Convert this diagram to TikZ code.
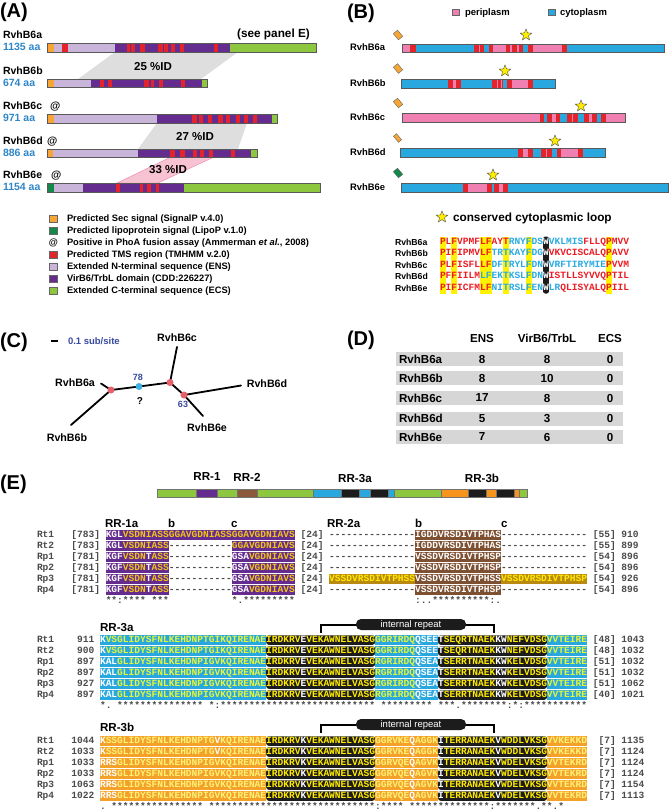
\documentclass[tikz,border=0pt]{standalone}
\usepackage{fontspec}
\setmainfont{Liberation Sans}
\setmonofont{Liberation Mono}
\usetikzlibrary{shapes.geometric}
\definecolor{org}{HTML}{F7A535}
\definecolor{dgrn}{HTML}{12884A}
\definecolor{tms}{HTML}{E3242B}
\definecolor{lpur}{HTML}{C9B5D9}
\definecolor{dpur}{HTML}{652C8F}
\definecolor{lgrn}{HTML}{8DC63F}
\definecolor{pk}{HTML}{F080B2}
\definecolor{bl}{HTML}{29A8E0}
\definecolor{aablue}{HTML}{2E86C8}
\definecolor{band}{HTML}{DEDEDE}
\definecolor{pband}{HTML}{F7C3D3}
\definecolor{staryel}{HTML}{FFED00}
\definecolor{hl}{HTML}{FFF200}
\definecolor{sred}{HTML}{ED1C24}
\definecolor{sblu}{HTML}{29ABE2}
\definecolor{dgray}{HTML}{D6D6D6}
\definecolor{treeblue}{HTML}{3A4A9E}
\definecolor{nodered}{HTML}{E8606A}
\definecolor{nodeblue}{HTML}{3FB0E0}
\definecolor{brn}{HTML}{7E5032}
\definecolor{brnE}{HTML}{8B5A3C}
\definecolor{gld}{HTML}{F2C418}
\definecolor{gbg}{HTML}{B98A0F}
\definecolor{ybright}{HTML}{FFEA00}
\definecolor{ygreen}{HTML}{E5F53A}
\definecolor{ylt}{HTML}{FFF176}
\definecolor{oE}{HTML}{F7941D}
\definecolor{oaln}{HTML}{F4A12A}
\definecolor{blk}{HTML}{1C1C1C}
\definecolor{numc}{HTML}{4A4A4A}
\newcounter{nn}
\newcommand\Wt[1]{\textcolor{white}{#1}}
\newcommand\Rd[1]{\textcolor{sred}{#1}}
\newcommand\Bl[1]{\textcolor{sblu}{#1}}
\newcommand\aseg[6][]{\stepcounter{nn}\node[aln,fill=#4,text=#5,name=q\arabic{nn},#1] at ({37+5.73*#2},#3) {#6};}
\newcommand\seqfive[8]{%
 \aseg{11}{#1}{#2}{#3}{#4}%
 \aseg[rounded corners=2.5pt]{40}{#1}{blk}{ybright}{#5}%
 \aseg{59}{#1}{#2}{#3}{#6}%
 \aseg[rounded corners=2.5pt]{70}{#1}{blk}{ybright}{#7}%
 \aseg{89}{#1}{#2}{#3}{#8}}
\newcommand\rowlab[5]{%
 \aseg{0}{#1}{none}{numc}{#2}%
 \aseg[anchor=east]{10}{#1}{none}{numc}{#3}%
 \aseg{97}{#1}{none}{numc}{#4}%
 \aseg{102}{#1}{none}{numc}{#5}}
\begin{document}
\begin{tikzpicture}[x=1pt,y=-1pt,
 every node/.style={inner sep=0pt, outer sep=0pt},
 bf/.style={font=\bfseries\fontsize{#1}{#1}\selectfont, text depth=0pt},
 rg/.style={font=\fontsize{#1}{#1}\selectfont, text depth=0pt},
 aln/.style={anchor=west, inner sep=0pt, font=\ttfamily\bfseries\fontsize{9.55}{10}\selectfont, text height=6.6pt, text depth=2.1pt, inner ysep=0.4pt},
 barline/.style={draw=black!65, line width=0.5pt},
 legsq/.style={draw=black!60, line width=0.4pt, minimum size=7.5pt},
 diam/.style={draw=black!60, line width=0.4pt, minimum width=8pt, minimum height=5.5pt, rotate=-50},
 strn/.style={star, star points=5, star point ratio=2.3, minimum size=12pt, fill=staryel, draw=black!70, line width=0.4pt},
 tree/.style={line width=1.8pt, line cap=round},
 tnode/.style={circle, minimum size=7pt},
 brk/.style={line width=2.2pt}]
\fill[white] (0,0) rectangle (669,811);
\useasboundingbox (0,0) rectangle (669,811);

% ---------- panel labels
\node[bf=20, anchor=west] (pA) at (0,10) {(A)};
\node[bf=20, anchor=west] (pB) at (347,11) {(B)};
\node[bf=20, anchor=west] (pC) at (0,340) {(C)};
\node[bf=20, anchor=west] (pD) at (347,338) {(D)};
\node[bf=20, anchor=west] (pE) at (0,482) {(E)};

% ---------- panel A
\fill[band] (115,52) -- (238,52) -- (201,79) -- (78,79) -- cycle;
\fill[band] (157,123) -- (247,123) -- (238,149) -- (138,149) -- cycle;
\filldraw[fill=pband, draw=pk, line width=0.4pt] (170,157.5) -- (213,157.5) -- (158,183) -- (117,183) -- cycle;
\node[bf=11.5] (pc1) at (153,66) {25 \%ID};
\node[bf=11.5] (pc2) at (195,136) {27 \%ID};
\node[bf=11.5] (pc3) at (168,169) {33 \%ID};
\node[bf=11.8] (seeE) at (273.5,33) {(see panel E)};

\foreach \a/\b/\c in {47.3/54.3/org,54.3/115/lpur,61.7/67.7/tms,115/230/dpur,126.7/130/tms,130.7/135/tms,140/145/tms,158.3/163.3/tms,164.3/168.3/tms,170.7/175/tms,180/184/tms,214/218.3/tms,230/316/lgrn}
  \fill[\c] (\a,43) rectangle (\b,52);
\draw[barline] (47.3,43) rectangle (316,52);
\foreach \a/\b/\c in {47.3/54.3/org,54.3/90.7/lpur,90.7/201.7/dpur,201.7/207.3/lgrn,100/104.3/tms,108.3/112.3/tms,144.3/149/tms,150.7/154.3/tms,159/163.3/tms,180.7/185/tms}
  \fill[\c] (\a,79) rectangle (\b,87.5);
\draw[barline] (47.3,79) rectangle (207.3,87.5);
\foreach \a/\b/\c in {47.3/54.3/org,54.3/156.7/lpur,156.7/271.7/dpur,271.7/277.3/lgrn,192.3/196.7/tms,199.3/203.3/tms,208.3/212.3/tms,218.3/222.7/tms,225.7/230/tms,236/240/tms,244.3/248.3/tms,252.7/257.3/tms}
  \fill[\c] (\a,114) rectangle (\b,123);
\draw[barline] (47.3,114) rectangle (277.3,123);
\foreach \a/\b/\c in {47.3/52.7/org,52.7/138.3/lpur,138.3/251/dpur,251/257.3/lgrn,170/175/tms,180/185/tms,192.7/197.3/tms,200/204/tms,209/213.3/tms,230.7/235/tms}
  \fill[\c] (\a,149) rectangle (\b,157.5);
\draw[barline] (47.3,149) rectangle (257.3,157.5);
\foreach \a/\b/\c in {47.3/54/dgrn,54/83.3/lpur,83.3/184/dpur,184/320.7/lgrn,116/120/tms,140/143.3/tms,146.7/150.7/tms,155.7/159.3/tms}
  \fill[\c] (\a,183) rectangle (\b,192);
\draw[barline] (47.3,183) rectangle (320.7,192);

\node[bf=10.5, anchor=west] (na) at (3,35) {RvhB6a};
\node[bf=10.5, anchor=west, text=aablue] (la) at (3,47) {1135 aa};
\node[bf=10.5, anchor=west] (nb) at (3,71) {RvhB6b};
\node[bf=10.5, anchor=west, text=aablue] (lb) at (3,82.5) {674 aa};
\node[bf=10.5, anchor=west] (nc) at (3,106) {RvhB6c};
\node[bf=10.5, anchor=west] (atc) at (50,106) {@};
\node[bf=10.5, anchor=west, text=aablue] (lc) at (3,118) {971 aa};
\node[bf=10.5, anchor=west] (nd) at (3,141) {RvhB6d};
\node[bf=10.5, anchor=west] (atd) at (47,141) {@};
\node[bf=10.5, anchor=west, text=aablue] (ld) at (3,153) {886 aa};
\node[bf=10.5, anchor=west] (ne) at (3,175) {RvhB6e};
\node[bf=10.5, anchor=west] (ate) at (51,175) {@};
\node[bf=10.5, anchor=west, text=aablue] (le) at (3,187) {1154 aa};

% legend A
\node[legsq, fill=org] (ls1) at (53.3,218.5) {};
\node[bf=9.3, anchor=west] (lt1) at (67,218.5) {Predicted Sec signal (SignalP v.4.0)};
\node[legsq, fill=dgrn] (ls2) at (53.3,230.5) {};
\node[bf=9.3, anchor=west] (lt2) at (67,230.5) {Predicted lipoprotein signal (LipoP v.1.0)};
\node[bf=9.3] (ls3) at (53.3,242.5) {@};
\node[bf=9.3, anchor=west] (lt3) at (67,242.5) {Positive in PhoA fusion assay (Ammerman \textit{et al.}, 2008)};
\node[legsq, fill=tms] (ls4) at (53.3,254.5) {};
\node[bf=9.3, anchor=west] (lt4) at (67,254.5) {Predicted TMS region (TMHMM v.2.0)};
\node[legsq, fill=lpur] (ls5) at (53.3,266.5) {};
\node[bf=9.3, anchor=west] (lt5) at (67,266.5) {Extended N-terminal sequence (ENS)};
\node[legsq, fill=dpur] (ls6) at (53.3,278.5) {};
\node[bf=9.3, anchor=west] (lt6) at (67,278.5) {VirB6/TrbL domain (CDD:226227)};
\node[legsq, fill=lgrn] (ls7) at (53.3,290.5) {};
\node[bf=9.3, anchor=west] (lt7) at (67,290.5) {Extended C-terminal sequence (ECS)};

% ---------- panel B
\node[legsq, fill=pk, minimum size=6.7pt] (bls1) at (456,12.3) {};
\node[bf=9.5, anchor=west] (blt1) at (465,12.3) {periplasm};
\node[legsq, fill=bl, minimum size=6.7pt] (bls2) at (551.5,12.3) {};
\node[bf=9.5, anchor=west] (blt2) at (560,12.3) {cytoplasm};

\foreach \a/\b/\c in {217/240/pk,240/257/tms,257/433/bl,433/447/tms,447/450/pk,450/463/tms,463/476/bl,476/490/tms,490/528/pk,528/541/tms,541/545/pk,545/560/tms,560/566/pk,566/580/tms,580/595/bl,595/608/tms,608/697/pk,697/710/tms,710/1003/bl}
  \fill[\c] ({330+\a/3},44) rectangle ({330+\b/3},52.5);
\draw[barline] ({330+217/3},44) rectangle ({330+1003/3},52.5);
\foreach \a/\b/\c in {213/355/bl,355/370/tms,370/378/pk,378/392/tms,392/487/bl,487/500/tms,500/503/pk,503/512/tms,512/515/pk,515/520/tms,520/532/bl,532/545/tms,545/595/pk,595/610/tms,610/677/bl}
  \fill[\c] ({330+\a/3},79) rectangle ({330+\b/3},88);
\draw[barline] ({330+213/3},79) rectangle ({330+677/3},88);
\foreach \a/\b/\c in {217/630/pk,630/643/tms,643/652/bl,652/665/tms,665/677/pk,677/690/tms,690/710/bl,710/725/tms,725/730/pk,730/745/tms,745/762/bl,762/777/tms,777/787/pk,787/802/tms,802/812/bl,812/827/tms,827/887/pk}
  \fill[\c] ({330+\a/3},113) rectangle ({330+\b/3},122);
\draw[barline] ({330+217/3},113) rectangle ({330+887/3},122);
\foreach \a/\b/\c in {210/565/bl,565/580/tms,580/595/pk,595/610/tms,610/632/bl,632/648/tms,648/652/pk,652/667/tms,667/680/bl,680/693/tms,693/745/pk,745/760/tms,760/827/bl}
  \fill[\c] ({330+\a/3},148) rectangle ({330+\b/3},157);
\draw[barline] ({330+210/3},148) rectangle ({330+827/3},157);
\foreach \a/\b/\c in {213/400/bl,400/415/tms,415/470/pk,470/485/tms,485/493/bl,493/508/tms,508/518/pk,518/533/tms,533/1015/bl}
  \fill[\c] ({330+\a/3},183) rectangle ({330+\b/3},192);
\draw[barline] ({330+213/3},183) rectangle ({330+1015/3},192);

\node[diam, fill=org] (dma) at (398,35) {};
\node[diam, fill=org] (dmb) at (398,68.5) {};
\node[diam, fill=org] (dmc) at (398,103) {};
\node[diam, fill=org, minimum height=4pt] (dmd) at (397.5,138) {};
\node[diam, fill=dgrn] (dme) at (398,173) {};
\node[strn] (sta) at (526,35) {};
\node[strn] (stb) at (505,71) {};
\node[strn] (stc) at (581,106) {};
\node[strn] (std) at (555,141) {};
\node[strn] (ste) at (493,175) {};

\node[bf=9.4, anchor=west] (bna) at (350,47.5) {RvhB6a};
\node[bf=9.4, anchor=west] (bnb) at (350,83) {RvhB6b};
\node[bf=9.4, anchor=west] (bnc) at (350,117.5) {RvhB6c};
\node[bf=9.4, anchor=west] (bnd) at (350,152.5) {RvhB6d};
\node[bf=9.4, anchor=west] (bne) at (350,187.5) {RvhB6e};

\node[strn] (stl) at (442,217) {};
\node[bf=11.8, anchor=west] (stlt) at (453,217) {conserved cytoplasmic loop};

\foreach \i in {0,2,7,8,11,15,29}
  \fill[hl] ({440+5.73*\i},236.5) rectangle ({440+5.73*(\i+1)},293.5);
\fill[blk, rounded corners=2pt] ({440+5.73*18},236.5) rectangle ({440+5.73*19},293.5);
\node[bf=8.7, anchor=west] (ana) at (395,242) {RvhB6a};
\node[bf=8.7, anchor=west] (anb) at (395,253.5) {RvhB6b};
\node[bf=8.7, anchor=west] (anc) at (395,265) {RvhB6c};
\node[bf=8.7, anchor=west] (and) at (395,276.5) {RvhB6d};
\node[bf=8.7, anchor=west] (ane) at (395,288) {RvhB6e};
\node[aln] (sqa) at (440,242) {\Rd{PLFVPMFLFAYT}\Bl{RNYFDS}\Wt{W}\Bl{VKLMIS}\Rd{FLLQPMVV}};
\node[aln] (sqb) at (440,253.5) {\Rd{PIFIPMVLF}\Bl{TRTKAYFDG}\Wt{W}\Rd{VKVCISCALQPAVV}};
\node[aln] (sqc) at (440,265) {\Rd{PLFISFLLF}\Bl{DFTRYLFDN}\Wt{W}\Bl{VRFTIRYMIE}\Rd{PVVM}};
\node[aln] (sqd) at (440,276.5) {\Rd{PFFIILM}\Bl{LFEKTKSLFDN}\Wt{W}\Rd{ISTLLSYVVQPTIL}};
\node[aln] (sqe) at (440,288) {\Rd{PIFICFMLF}\Bl{NITRSLFEN}\Wt{W}\Bl{LR}\Rd{QLISYALQPIIL}};

% ---------- panel C
\coordinate (s1) at (51,341);
\coordinate (s2) at (58,341);
\draw[line width=1.8pt] (s1) -- (s2);
\node[bf=9.5, anchor=west, text=treeblue] (sbl) at (68,341) {0.1 sub/site};
\coordinate (ea) at (101,383.5);
\coordinate (n1) at (111,390);
\coordinate (eb) at (71,425);
\coordinate (nbl) at (139,386.5);
\coordinate (n2) at (170,382.5);
\coordinate (ec) at (177,347);
\coordinate (n3) at (184,395);
\coordinate (ed) at (241,385.5);
\coordinate (ee) at (203,416);
\draw[tree] (ea) -- (n1) -- (eb);
\draw[tree] (n1) -- (nbl) -- (n2) -- (ec);
\draw[tree] (n2) -- (n3) -- (ed);
\draw[tree] (n3) -- (ee);
\node[tnode, fill=nodered] (cn1) at (n1) {};
\node[tnode, fill=nodeblue] (cnb) at (nbl) {};
\node[tnode, fill=nodered] (cn2) at (n2) {};
\node[tnode, fill=nodered] (cn3) at (n3) {};
\node[bf=10.7] (ta) at (75,383) {RvhB6a};
\node[bf=10.7] (tb) at (67,438) {RvhB6b};
\node[bf=10.7] (tc) at (177,338) {RvhB6c};
\node[bf=10.7] (td) at (267,384) {RvhB6d};
\node[bf=10.7] (te) at (207,428) {RvhB6e};
\node[bf=9, text=treeblue] (b78) at (138,377) {78};
\node[bf=10] (bq) at (140,401.5) {?};
\node[bf=9, text=treeblue] (b63) at (183,404) {63};

% ---------- panel D
\node[bf=11.6] (dh1) at (482,338) {ENS};
\node[bf=11.6] (dh2) at (547,338) {VirB6/TrbL};
\node[bf=11.6] (dh3) at (610,338) {ECS};
\foreach \y/\nm/\va/\vb/\vc [count=\i] in {359/RvhB6a/8/8/0,378/RvhB6b/8/10/0,398/RvhB6c/17/8/0,418.5/RvhB6d/5/3/0,437/RvhB6e/7/6/0} {
  \fill[dgray] (396,\y-7) rectangle (623,\y+7);
  \node[bf=11.6, anchor=west] (dn\i) at (399,\y) {\nm};
  \node[bf=11.6] (dva\i) at (482,\y) {\va};
  \node[bf=11.6] (dvb\i) at (547,\y) {\vb};
  \node[bf=11.6] (dvc\i) at (610,\y) {\vc};
}

% ---------- panel E domain bar
\foreach \a/\b/\c in {157/196/lgrn,196/217/dpur,217/237/lgrn,237/257/brnE,257/313/lgrn,313/341/bl,341/359/blk,359/370/bl,370/388/blk,388/394/bl,394/441/lgrn,441/468/oE,468/486/blk,486/496/oE,496/514/blk,514/519/oE,519/527/lgrn}
  \filldraw[fill=\c, draw=black!55, line width=0.3pt] (\a,489) rectangle (\b,497);
\node[bf=11.6] (e1) at (207,477) {RR-1};
\node[bf=11.6] (e2) at (247,477) {RR-2};
\node[bf=11.6] (e3) at (355,478) {RR-3a};
\node[bf=11.6] (e4) at (482,478) {RR-3b};

% ---------- block 1 (RR-1, RR-2)
\node[bf=11.5, anchor=base west] (h1a) at (105,527) {RR-1a};
\node[bf=11.5, anchor=base west] (h1b) at (168,527) {b};
\node[bf=11.5, anchor=base west] (h1c) at (231,527) {c};
\node[bf=11.5, anchor=base west] (h2a) at (327,527) {RR-2a};
\node[bf=11.5, anchor=base west] (h2b) at (415,527) {b};
\node[bf=11.5, anchor=base west] (h2c) at (501,527) {c};

\aseg{0}{535}{none}{numc}{Rt1}\aseg{6}{535}{none}{numc}{[783]}
\aseg{12}{535}{dpur}{gld}{\Wt{KGL}VSDNIASS}\aseg{23}{535}{dpur}{gld}{GGAVGDNIASS}\aseg{34}{535}{dpur}{gld}{GGAVGDNIAVS}
\aseg{46}{535}{none}{numc}{[24]}\aseg{51}{535}{none}{numc}{---------------}\aseg{66}{535}{brn}{white}{IGDDVRSDIVTPHAS}\aseg{81}{535}{none}{numc}{---------------}
\aseg{97}{535}{none}{numc}{[55]}\aseg{102}{535}{none}{numc}{910}

\aseg{0}{546}{none}{numc}{Rt2}\aseg{6}{546}{none}{numc}{[783]}
\aseg{12}{546}{dpur}{gld}{\Wt{KGL}VSDNIASS}\aseg{23}{546}{none}{numc}{-----------}\aseg{34}{546}{dpur}{gld}{GGAVGDNIAVS}
\aseg{46}{546}{none}{numc}{[24]}\aseg{51}{546}{none}{numc}{---------------}\aseg{66}{546}{brn}{white}{IGDDVRSDIVTPHAS}\aseg{81}{546}{none}{numc}{---------------}
\aseg{97}{546}{none}{numc}{[55]}\aseg{102}{546}{none}{numc}{899}

\foreach \y/\nm in {557/Rp1,568/Rp2,590/Rp4} {
\aseg{0}{\y}{none}{numc}{\nm}\aseg{6}{\y}{none}{numc}{[781]}
\aseg{12}{\y}{dpur}{gld}{\Wt{KGF}VSDN\Wt{T}ASS}\aseg{23}{\y}{none}{numc}{-----------}\aseg{34}{\y}{dpur}{gld}{\Wt{GSA}VGDNIAVS}
\aseg{46}{\y}{none}{numc}{[24]}\aseg{51}{\y}{none}{numc}{---------------}\aseg{66}{\y}{brn}{white}{VSSDVRSDIVTPHSP}\aseg{81}{\y}{none}{numc}{---------------}
\aseg{97}{\y}{none}{numc}{[54]}\aseg{102}{\y}{none}{numc}{896}
}
\aseg{0}{579}{none}{numc}{Rp3}\aseg{6}{579}{none}{numc}{[781]}
\aseg{12}{579}{dpur}{gld}{\Wt{KGF}VSDN\Wt{T}ASS}\aseg{23}{579}{none}{numc}{-----------}\aseg{34}{579}{dpur}{gld}{\Wt{GSA}VGDNIAVS}
\aseg{46}{579}{none}{numc}{[24]}\aseg{51}{579}{gbg}{ybright}{VSSDVRSDIVTPHSS}\aseg{66}{579}{brn}{white}{VSSDVRSDIVTPHSS}\aseg{81}{579}{gbg}{ybright}{VSSDVRSDIVTPHSP}
\aseg{97}{579}{none}{numc}{[54]}\aseg{102}{579}{none}{numc}{926}

\aseg{12}{601}{none}{numc}{**:****~***}\aseg{34}{601}{none}{numc}{*.*********}\aseg{66}{601}{none}{numc}{:..**********:.}

% ---------- block 2 (RR-3a)
\node[bf=11.6, anchor=base west] (h3a) at (100,631) {RR-3a};
\coordinate (ir1a) at (321,633);
\coordinate (ir1b) at (321,625);
\coordinate (ir1c) at (494,625);
\coordinate (ir1d) at (494,633);
\draw[brk] (ir1a) -- (ir1b) -- (ir1c) -- (ir1d);
\node[fill=blk, rounded corners=5pt, minimum width=110pt, minimum height=11pt, text=white, rg=9.5] (ir1) at (411,624.5) {internal repeat};

\rowlab{640}{Rt1}{911}{[48]}{1043}
\seqfive{640}{bl}{ygreen}{\Wt{K}VSGLIDYSFNLKEHDNPTGIKQIRENAE}{IRDKRV\Wt{E}VEKAWNELVASG}{GGRIRDQ\Wt{QSEE}}{\Wt{T}SEQRTNAEK\Wt{KW}NEFVDSG}{VVTEIRE}
\rowlab{651}{Rt2}{900}{[48]}{1032}
\seqfive{651}{bl}{ygreen}{\Wt{K}VSGLIDYSFNLKEHDNPTGIKQIRENAE}{IRDKRV\Wt{E}VEKAWNELVASG}{GGRIRDQ\Wt{QSEE}}{\Wt{T}SEQRTNAEK\Wt{KW}NEFVDSG}{VVTEIRE}
\rowlab{662}{Rp1}{897}{[51]}{1032}
\seqfive{662}{bl}{ygreen}{\Wt{KAL}GLIDYSFNLKEHDNPIGVKQIRENAE}{IRDKRV\Wt{E}VEKAWNELVASG}{RGRIRDQ\Wt{QSEA}}{\Wt{T}SERRTNAEK\Wt{KW}KELVDSG}{VVTEIRE}
\rowlab{673}{Rp2}{897}{[51]}{1032}
\seqfive{673}{bl}{ygreen}{\Wt{KAL}GLIDYSFNLKEHDNPIGVKQIRENAE}{IRDKRV\Wt{E}VEKAWNELVASG}{RGRIRDQ\Wt{QSEA}}{\Wt{T}SERRTNAEK\Wt{KW}KELVDSG}{VVTEIRE}
\rowlab{684}{Rp3}{927}{[51]}{1062}
\seqfive{684}{bl}{ygreen}{\Wt{KAL}GLIDYSFNLKEHDNPIGVKQIRENAE}{IRDKRV\Wt{E}VEKAWNELVASG}{RGRIRDQ\Wt{QSEA}}{\Wt{T}SERRTNAEK\Wt{KW}KELVDSG}{VVTEIRE}
\rowlab{695}{Rp4}{897}{[40]}{1021}
\seqfive{695}{bl}{ygreen}{\Wt{KAL}GLIDYSFNLKEHDNPIGVKQIRENAE}{IRDKRV\Wt{E}VEKAWNELVASG}{RGRIRDQ\Wt{QSEA}}{\Wt{T}SERRTNAEK\Wt{KW}KELVDSG}{VVTEIRE}
\aseg{11}{706}{none}{numc}{*.~***************~*:***************************~*********~***.********:*:***********}

% ---------- block 3 (RR-3b)
\node[bf=11.6, anchor=base west] (h3b) at (100,731) {RR-3b};
\coordinate (ir2a) at (321,733);
\coordinate (ir2b) at (321,725);
\coordinate (ir2c) at (494,725);
\coordinate (ir2d) at (494,733);
\draw[brk] (ir2a) -- (ir2b) -- (ir2c) -- (ir2d);
\node[fill=blk, rounded corners=5pt, minimum width=110pt, minimum height=11pt, text=white, rg=9.5] (ir2) at (411,724.5) {internal repeat};

\rowlab{741}{Rt1}{1044}{~[7]}{1135}
\seqfive{741}{oaln}{ylt}{\Wt{K}SSGLIDYSFNLKEHDNPTG\Wt{V}KQIRENAE}{IRDKRV\Wt{K}VEKAWNELVASG}{GGRVKE\Wt{Q}AGGK}{\Wt{I}TERRANAEK\Wt{V}WDDLVKSG}{VVKEKKD}
\rowlab{752}{Rt2}{1033}{~[7]}{1124}
\seqfive{752}{oaln}{ylt}{\Wt{K}SSGLIDYSFNLKEHDNPTG\Wt{V}KQIRENAE}{IRDKRV\Wt{K}VEKAWNELVASG}{GGRVKE\Wt{Q}AGGK}{\Wt{I}TERRANAEK\Wt{V}WDDLVKSG}{VVKEKKD}
\rowlab{763}{Rp1}{1033}{~[7]}{1124}
\seqfive{763}{oaln}{ylt}{\Wt{RRS}GLIDYSFNLKEHDNPIGVKQIRENAE}{IRDKRV\Wt{K}VEKAWNELVASG}{GGRVQE\Wt{Q}AGVK}{\Wt{I}TERRANAEK\Wt{V}WDELVKSG}{VVTEKRD}
\rowlab{774}{Rp2}{1033}{~[7]}{1124}
\seqfive{774}{oaln}{ylt}{\Wt{RRS}GLIDYSFNLKEHDNPIGVKQIRENAE}{IRDKRV\Wt{K}VEKAWNELVASG}{GGRVQE\Wt{Q}AGVK}{\Wt{I}TERRANAEK\Wt{V}WDELVKSG}{VVTEKRD}
\rowlab{785}{Rp3}{1063}{~[7]}{1154}
\seqfive{785}{oaln}{ylt}{\Wt{RRS}GLIDYSFNLKEHDNPIGVKQIRENAE}{IRDKRV\Wt{K}VEKAWNELVASG}{GGRVQE\Wt{Q}AGVK}{\Wt{I}TERRANAEK\Wt{V}WDELVKSG}{VVTEKRD}
\rowlab{796}{Rp4}{1022}{~[7]}{1113}
\seqfive{796}{oaln}{ylt}{\Wt{RRS}GLIDYSFNLKEHDNPIGVKQIRENAE}{IRDKRV\Wt{K}VEKAWNELVASG}{GGRVQE\Wt{Q}AGVK}{\Wt{I}TERRANAEK\Wt{V}WDELVKSG}{VVTEKRD}
\aseg{11}{807}{none}{numc}{.~****************~*****************************:****~**************:*******.**.*}
\end{tikzpicture}
\end{document}
